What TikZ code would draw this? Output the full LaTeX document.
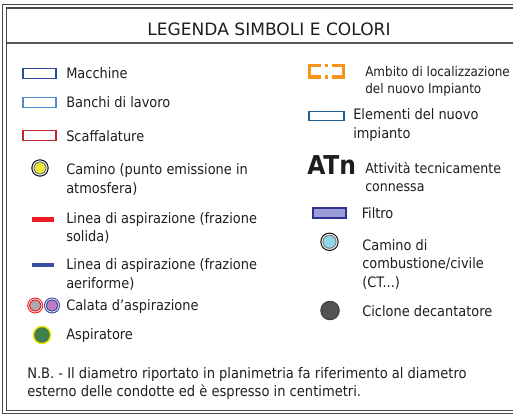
\documentclass[tikz,border=0pt]{standalone}
\usepackage{fontspec}
\setmainfont{DejaVu Sans Condensed}
\newfontfamily\titlefont{DejaVu Sans}
\definecolor{framegray}{HTML}{4A4A4A}
\definecolor{txt}{HTML}{1E1E1E}
\definecolor{macblue}{HTML}{2C4C9E}
\definecolor{benchblue}{HTML}{4E8BCB}
\definecolor{shelfred}{HTML}{C4262C}
\definecolor{linered}{HTML}{EC1C24}
\definecolor{lineblue}{HTML}{3A4EA0}
\definecolor{calgray}{HTML}{A8AAAD}
\definecolor{calviolet}{HTML}{C27CC4}
\definecolor{aspgreen}{HTML}{3E7F4C}
\definecolor{aspyellow}{HTML}{F0E400}
\definecolor{camyellow}{HTML}{F4EC3C}
\definecolor{amborange}{HTML}{F7941D}
\definecolor{newblue}{HTML}{24608F}
\definecolor{filtfill}{HTML}{9C9CD8}
\definecolor{filtnavy}{HTML}{2E3192}
\definecolor{camcyan}{HTML}{8DD9E7}
\definecolor{cycgray}{HTML}{525252}

\begin{document}
\begin{tikzpicture}[x=0.75pt,y=-0.75pt,
	legend text/.style = {anchor=base west, inner sep=0pt, align=left, text=txt,
		font=\fontsize{10.8}{13.8}\selectfont},
	sym box/.style = {line width=0.9pt},
	frame line/.style = {draw=framegray, line width=0.9pt}]
	\useasboundingbox (0,0) rectangle (513,416);
	% cornice doppia e intestazione
	\draw[frame line] (513,4.5) -| (2.5,413.5) -- (513,413.5);
	\draw[frame line] (513,8) -| (6.5,410.3) -- (513,410.3);
	\draw[draw=gray!70!black, line width=1.5pt] (6.5,42.7) -- (513,42.7);
	\node[anchor=base, inner sep=0pt, text=txt, font=\titlefont\fontsize{12.8}{14}\selectfont] (title) at (269,36) {LEGENDA SIMBOLI E COLORI};

	% colonna sinistra (base = ultima riga)
	\draw[sym box, draw=macblue] (23,68.5) rectangle (56,78.5);
	\node[legend text] (mac) at (66,79) {Macchine};
	\draw[sym box, draw=benchblue] (23,97.5) rectangle (56,107.5);
	\node[legend text] (ban) at (66,107.5) {Banchi di lavoro};
	\draw[sym box, draw=shelfred] (23,130.5) rectangle (56,140.5);
	\node[legend text] (sca) at (66,141.5) {Scaffalature};
	\fill[black] (40,168) circle (8.7);
	\fill[white] (40,168) circle (7.6);
	\fill[gray] (40,168) circle (6.6);
	\fill[camyellow] (40,168) circle (5.4);
	\node[legend text] (cam) at (66,193.3) {Camino (punto emissione in\\atmosfera)};
	\draw[draw=linered, line width=3.6pt] (31.5,219.5) -- (53.5,219.5);
	\node[legend text] (lrs) at (66,241.7) {Linea di aspirazione (frazione\\solida)};
	\draw[draw=lineblue, line width=3pt] (31.5,265.5) -- (53.5,265.5);
	\node[legend text] (lra) at (66,288.3) {Linea di aspirazione (frazione\\aeriforme)};
	\fill[linered] (35.2,305.5) circle (8);
	\fill[white] (35.2,305.5) circle (6.9);
	\fill[linered] (35.2,305.5) circle (6.1);
	\fill[calgray] (35.2,305.5) circle (5.1);
	\fill[lineblue] (52,305.5) circle (8);
	\fill[white] (52,305.5) circle (6.9);
	\fill[lineblue] (52,305.5) circle (6.1);
	\fill[calviolet] (52,305.5) circle (5.1);
	\node[legend text] (cal) at (66,310) {Calata d'aspirazione};
	\draw[draw=aspyellow, fill=aspgreen, line width=1.1pt] (42,335) circle (8.6);
	\node[legend text] (asp) at (66,339.3) {Aspiratore};

	% colonna destra
	\draw[draw=amborange, line width=2.4pt] (321,65.5) -| (309.5,77) -- (321,77);
	\draw[draw=amborange, line width=2.4pt] (332,65.5) -| (343.5,77) -- (332,77);
	\draw[draw=amborange, line width=2.4pt] (325,65.5) -- (328,65.5);
	\draw[draw=amborange, line width=2.4pt] (325,77) -- (328,77);
	\node[legend text, font=\fontsize{10}{12.5}\selectfont] (amb) at (365,93.3) {Ambito di localizzazione\\del nuovo Impianto};
	\draw[sym box, draw=newblue] (309,111.5) rectangle (344,120.5);
	\node[legend text] (ele) at (353,138.3) {Elementi del nuovo\\impianto};
	\node[anchor=base west, inner sep=0pt, text=txt, font=\fontsize{19.5}{21}\selectfont\bfseries] (atn) at (307,175) {ATn};
	\node[legend text, font=\fontsize{10.5}{13.8}\selectfont] (att) at (365,191.7) {Attività tecnicamente\\connessa};
	\draw[draw=filtnavy, fill=filtfill, line width=0.9pt] (313,208) rectangle (346,218);
	\node[legend text] (fil) at (361.5,218.3) {Filtro};
	\fill[black] (329.5,241.8) circle (9.2);
	\fill[white] (329.5,241.8) circle (8.1);
	\fill[gray] (329.5,241.8) circle (7.1);
	\fill[camcyan] (329.5,241.8) circle (5.9);
	\node[legend text] (cac) at (362,287) {Camino di\\combustione/civile\\(CT...)};
	\draw[draw=black!80, fill=cycgray, line width=0.6pt] (330,310.5) circle (9.3);
	\node[legend text] (cic) at (362,316.7) {Ciclone decantatore};

	% nota
	\node[anchor=base west, inner sep=0pt, align=left, text=txt, font=\fontsize{10.9}{13.4}\selectfont] (nb) at (27,396.5)
		{N.B. - Il diametro riportato in planimetria fa riferimento al diametro\\esterno delle condotte ed è espresso in centimetri.};
\end{tikzpicture}
\end{document}
